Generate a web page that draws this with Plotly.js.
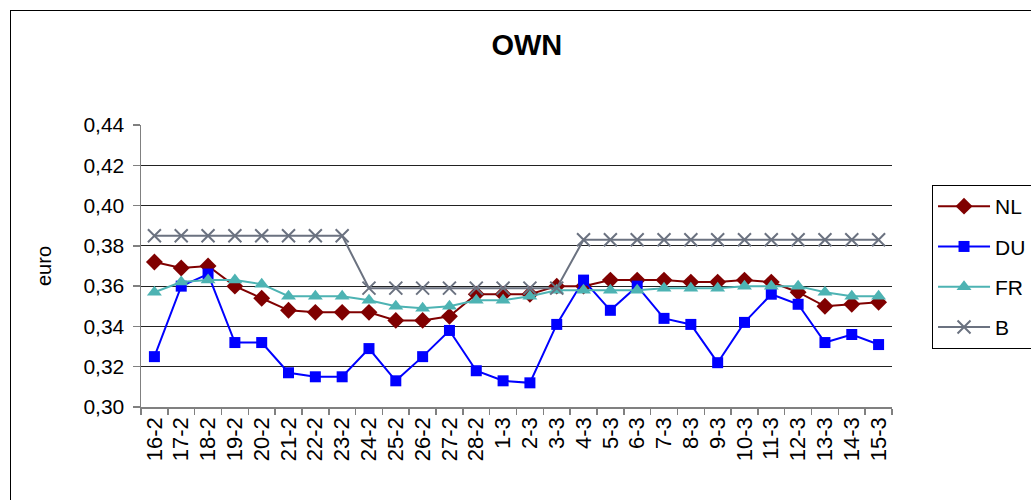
<!DOCTYPE html>
<html>
<head>
<meta charset="utf-8">
<script src="https://cdn.plot.ly/plotly-3.0.1.min.js"></script>
<style>
html,body{margin:0;padding:0;background:#fff;overflow:hidden;}
#wrap{position:relative;width:1031px;height:500px;}
#frame{position:absolute;left:10px;top:10px;width:1040px;height:520px;border:1px solid #000;box-sizing:border-box;pointer-events:none;}
#chart{position:absolute;left:0;top:0;width:1031px;height:500px;}
</style>
</head>
<body>
<div id="wrap"><div id="chart"></div><div id="frame"></div></div>
<script>
const categories = ["16-2","17-2","18-2","19-2","20-2","21-2","22-2","23-2","24-2","25-2","26-2","27-2","28-2",
  "1-3","2-3","3-3","4-3","5-3","6-3","7-3","8-3","9-3","10-3","11-3","12-3","13-3","14-3","15-3"];
const nlValues = [0.372,0.369,0.370,0.360,0.354,0.348,0.347,0.347,0.347,0.343,0.343,0.345,0.356,
  0.356,0.356,0.360,0.360,0.363,0.363,0.363,0.362,0.362,0.363,0.362,0.357,0.350,0.351,0.352];
const duValues = [0.325,0.360,0.366,0.332,0.332,0.317,0.315,0.315,0.329,0.313,0.325,0.338,0.318,
  0.313,0.312,0.341,0.363,0.348,0.360,0.344,0.341,0.322,0.342,0.356,0.351,0.332,0.336,0.331];
const frValues = [0.357,0.362,0.363,0.363,0.361,0.355,0.355,0.355,0.353,0.350,0.349,0.350,0.353,
  0.353,0.355,0.358,0.358,0.358,0.358,0.359,0.359,0.359,0.360,0.360,0.360,0.357,0.355,0.355];
const bValues = [0.385,0.385,0.385,0.385,0.385,0.385,0.385,0.385,0.359,0.359,0.359,0.359,0.359,
  0.359,0.359,0.359,0.383,0.383,0.383,0.383,0.383,0.383,0.383,0.383,0.383,0.383,0.383,0.383];
const yTicks = [0.30,0.32,0.34,0.36,0.38,0.40,0.42,0.44];
const yTickText = ["0,30","0,32","0,34","0,36","0,38","0,40","0,42","0,44"];

const FONT = "Liberation Sans, Arial, sans-serif";
function tr(name, y, color, symbol, size, lw, extra) {
  return Object.assign({
    type: "scatter", mode: "lines+markers", name: name, x: categories, y: y,
    line: {color: color, width: lw},
    marker: {symbol: symbol, size: size, color: color},
    legendgroup: name
  }, extra || {});
}
const data = [
  tr("NL", nlValues, "#800000", "diamond", 13, 2),
  tr("DU", duValues, "#0000FF", "square", 11, 2),
  tr("FR", frValues, "#4DB3B3", "triangle-up", 13, 2),
  tr("B", bValues, "#6B7280", "x-thin-open", 12, 2, {marker:{symbol:"x-thin-open", size:13, color:"#6B7280", line:{color:"#6B7280", width:2}}})
];
const layout = {
  width: 1031, height: 500,
  margin: {l: 141, r: 139, t: 125, b: 93},
  paper_bgcolor: "#fff", plot_bgcolor: "#fff",
  font: {family: FONT, color: "#000", size: 20},
  title: {text: "<b>OWN</b>", font: {family: FONT, size: 29, color: "#000"}, x: 0.511, xanchor: "center", y: 0.91, yanchor: "middle"},
  showlegend: true,
  legend: {
    xref: "container", yref: "container",
    x: 0.904, xanchor: "left", y: 0.63, yanchor: "top",
    bordercolor: "#000", borderwidth: 1, bgcolor: "#fff",
    font: {family: FONT, size: 21, color: "#000"},
    itemwidth: 52, traceorder: "grouped", tracegroupgap: 10
  },
  xaxis: {
    type: "category", range: [-0.5, 27.5],
    showline: true, linecolor: "#808080", linewidth: 1.5,
    ticks: "outside", tickson: "boundaries", ticklen: 6, tickcolor: "#808080", tickwidth: 1.5,
    tickangle: -90, tickfont: {family: FONT, size: 22, color: "#000"},
    showgrid: false, zeroline: false, fixedrange: true
  },
  yaxis: {
    range: [0.30, 0.44], tickvals: yTicks, ticktext: yTickText,
    showline: true, linecolor: "#808080", linewidth: 1.5,
    ticks: "outside", ticklen: 7, tickcolor: "#808080", tickwidth: 1.5,
    ticklabelstandoff: 4,
    tickfont: {family: FONT, size: 21, color: "#000"},
    showgrid: true, gridcolor: "#222", gridwidth: 1, zeroline: false,
    title: {text: "euro", font: {family: FONT, size: 20, color: "#000"}, standoff: 26}
  }
};
Plotly.newPlot("chart", data, layout, {staticPlot: true, displayModeBar: false});
</script>
</body>
</html>
